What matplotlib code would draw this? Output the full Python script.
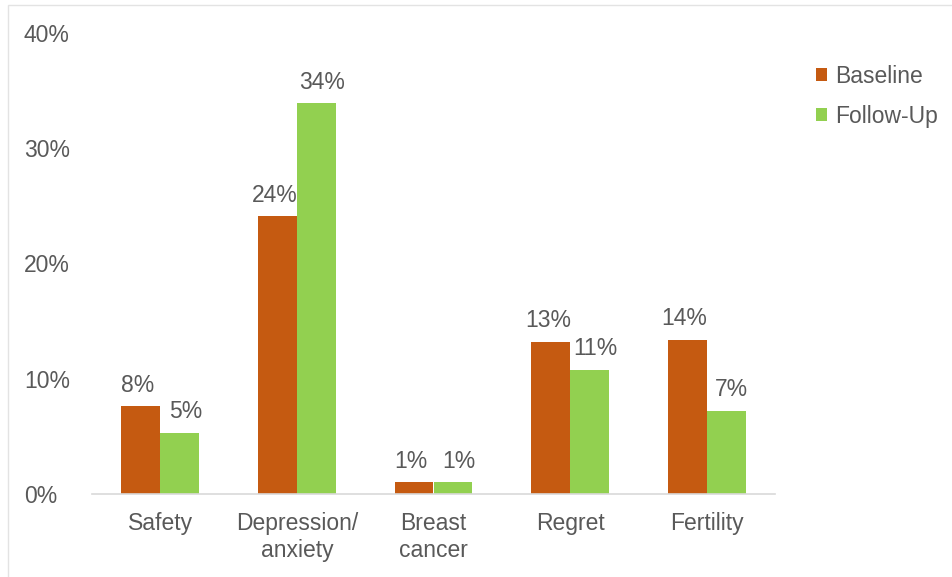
import matplotlib
matplotlib.use("Agg")
import matplotlib.pyplot as plt
import numpy as np
from matplotlib.patches import Rectangle

categories = ["Safety", "Depression/\nanxiety", "Breast\ncancer", "Regret", "Fertility"]
baseline = [7.6, 24.1, 1.0, 13.2, 13.4]
follow_up = [5.3, 33.9, 1.0, 10.8, 7.2]
baseline_labels = ["8%", "24%", "1%", "13%", "14%"]
follow_labels = ["5%", "34%", "1%", "11%", "7%"]
y_ticks = [0, 10, 20, 30, 40]

plt.rcParams["font.family"] = ["Liberation Sans", "DejaVu Sans"]
text_col = "#595959"
fs = 16.5

fig = plt.figure(figsize=(9.52, 5.77), dpi=100)
ax = fig.add_axes([92 / 952, 1 - 494 / 577, (775 - 92) / 952, (494 - 33) / 577])

x = np.arange(len(categories))
w = 0.285
b1 = ax.bar(x - w / 2, baseline, w, color="#C55A11", label="Baseline")
b2 = ax.bar(x + w / 2, follow_up, w, color="#92D050", label="Follow-Up")

for rect, lab in zip(b1, baseline_labels):
    ax.annotate(lab, (rect.get_x() + rect.get_width() / 2, rect.get_height()),
                xytext=(-2, 7), textcoords="offset points", ha="center", va="bottom",
                fontsize=fs, color=text_col)
for rect, lab in zip(b2, follow_labels):
    ax.annotate(lab, (rect.get_x() + rect.get_width() / 2, rect.get_height()),
                xytext=(4, 7), textcoords="offset points", ha="center", va="bottom",
                fontsize=fs, color=text_col)

ax.set_xlim(-0.5, len(categories) - 0.5)
ax.set_ylim(0, 40)
ax.set_yticks(y_ticks)
ax.set_yticklabels([f"{t}%" for t in y_ticks], fontsize=fs, color=text_col)
ax.set_xticks(x)
ax.set_xticklabels(categories, fontsize=fs, color=text_col, linespacing=1.2)
ax.tick_params(length=0)
ax.tick_params(axis="y", pad=49)
ax.tick_params(axis="x", pad=13)
for lbl in ax.get_yticklabels():
    lbl.set_horizontalalignment("left")
for s in ["top", "right", "left"]:
    ax.spines[s].set_visible(False)
ax.spines["bottom"].set_color("#D9D9D9")
ax.spines["bottom"].set_linewidth(1.2)

leg = fig.legend(loc="upper left", bbox_to_anchor=(795 / 952, 1 - 44 / 577),
                 frameon=False, fontsize=fs, handlelength=0.5, handleheight=0.5,
                 handletextpad=0.35, labelspacing=0.75)
for t in leg.get_texts():
    t.set_color(text_col)

# faint outer frame of the original image
fig.patches.append(Rectangle((8 / 952, -0.01), 1.0, 1 - 5 / 577 + 0.01,
                             transform=fig.transFigure, fill=False,
                             edgecolor="#E3E3E3", linewidth=1))

fig.savefig("out.png", dpi=100)
